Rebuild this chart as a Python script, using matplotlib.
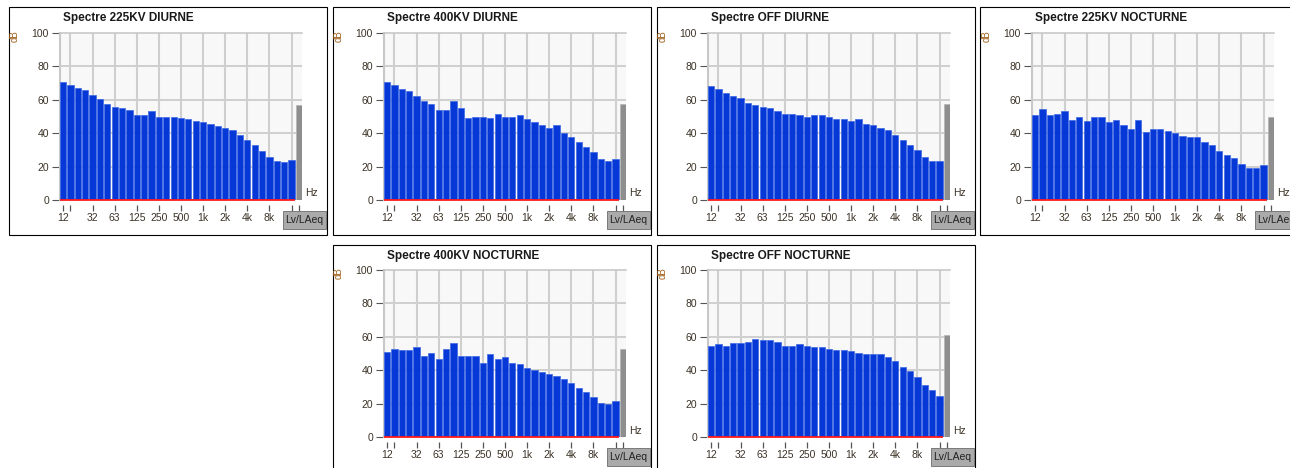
import numpy as np
import matplotlib
matplotlib.use('Agg')
import matplotlib.pyplot as plt
from matplotlib.patches import Rectangle

plt.rcParams['font.family'] = ['Liberation Sans', 'DejaVu Sans']

# Bandes de tiers d'octave 12.5 Hz -> 16 kHz, puis la colonne globale LAeq
bandes = ['12.5', '16', '20', '25', '31.5', '40', '50', '63', '80', '100',
          '125', '160', '200', '250', '315', '400', '500', '630', '800', '1k',
          '1.25k', '1.6k', '2k', '2.5k', '3.15k', '4k', '5k', '6.3k', '8k',
          '10k', '12.5k', '16k']
ticks_pos = [0, 1, 4, 7, 10, 13, 16, 19, 22, 25, 28, 31, 32]
ticks_lab = ['12', '', '32', '63', '125', '250', '500', '1k', '2k', '4k', '8k', '', '']

titres = ['Spectre 225KV DIURNE', 'Spectre 400KV DIURNE', 'Spectre OFF DIURNE',
          'Spectre 225KV NOCTURNE', 'Spectre 400KV NOCTURNE', 'Spectre OFF NOCTURNE']

lv_225_jour = [70.5, 69, 67.3, 65.8, 63, 60.3, 57.4, 55.8, 55, 54, 50.7, 50.7, 53,
               49.7, 49.7, 49.7, 49, 48.4, 47.6, 46.8, 45.8, 44.4, 43.4, 41.8,
               39.2, 35.9, 32.7, 29.3, 26, 23.5, 22.7, 24]
lv_400_jour = [70.5, 69, 66.5, 65, 62, 59, 57.4, 54, 54, 59, 55, 49.2, 50, 50,
               49.2, 51.6, 50, 50, 50.8, 48.4, 46.6, 45, 43.4, 45, 40, 37.6, 35,
               31.9, 28.5, 24.3, 23.5, 24.3]
lv_off_jour = [68, 66.5, 64, 62.3, 60.8, 58.2, 56.6, 55.8, 55, 53.2, 51.6, 51.6,
               50.8, 50, 50.8, 50.8, 50, 48.4, 48.4, 47.6, 48.4, 45.8, 45, 43.4,
               41.8, 39.2, 35.9, 32.7, 30.1, 25.9, 23.5, 23.5]
lv_225_nuit = [50.8, 54.2, 50.8, 51.6, 53.2, 48.2, 50, 47.4, 50, 50, 46.6, 48.2,
               45, 42.6, 48.2, 40.8, 42.6, 42.6, 41.6, 40, 38.4, 37.6, 37.6, 35,
               32.7, 29.3, 26.7, 25.1, 21.7, 19.3, 19.3, 21]
lv_400_nuit = [51, 52.8, 51.8, 51.8, 53.8, 48.8, 50.2, 47, 52.8, 56, 48.8, 48.8,
               48.8, 44.6, 49.6, 47, 48, 44.6, 43.8, 41.2, 40.4, 38.8, 38, 36.4,
               34.6, 32.2, 29.6, 27.2, 23.8, 20.6, 19.8, 21.4]
lv_off_nuit = [54.4, 55.4, 54.4, 56.2, 56.2, 57, 58.6, 57.8, 57.8, 57, 54.4, 54.4,
               55.4, 54.4, 53.6, 53.6, 52.8, 52, 52, 51.2, 50.4, 49.6, 49.6, 49.6,
               47.8, 45.4, 42.2, 39.6, 36.2, 31.4, 28, 24.6]
laeq = [56.6, 57.4, 57.4, 49.8, 52.8, 61]

spectres = [lv_225_jour, lv_400_jour, lv_off_jour, lv_225_nuit, lv_400_nuit, lv_off_nuit]

# coin haut-gauche de chaque cadre (pixels)
coins = [(8, 7), (332, 7), (656, 7), (980, 7), (332, 244), (656, 244)]

FW, FH = 1290, 468
PW, PH = 319, 228
fig = plt.figure(figsize=(FW / 100, FH / 100), dpi=100)


def fx(x):
    return x / FW


def fy(y):
    return 1 - y / FH


def boite(x0, y0, x1, y1, **kw):
    fig.add_artist(Rectangle((fx(x0), fy(y1)), (x1 - x0) / FW, (y1 - y0) / FH,
                             transform=fig.transFigure, **kw))


texte = '#3b3226'
larg = 0.84

for k in range(6):
    px, py = coins[k]
    boite(px + 0.5, py + 0.5, px + PW, py + PH, fill=False, ec='black', lw=0.8)

    g, h, d, b = px + 52, py + 26, px + 294, py + 193
    ax = fig.add_axes([fx(g), fy(b), (d - g) / FW, (b - h) / FH])
    ax.set_facecolor('#f8f8f8')

    n = len(spectres[k])
    x = np.arange(n)
    ax.bar(x, spectres[k], width=larg, color='#0538d6', edgecolor='#3d68e6',
           linewidth=0.5, zorder=3)
    ax.bar([n], [laeq[k]], width=larg, color='#8e8e8e', edgecolor='#b4b4b4',
           linewidth=0.5, zorder=3)
    ax.hlines(0, x[0] - larg / 2, x[-1] + larg / 2, color='#ff1a1a', lw=1.3,
              zorder=4, clip_on=False)

    ax.set_xlim(-larg / 2, n + larg / 2)
    ax.set_ylim(0, 100)
    ax.set_yticks([0, 20, 40, 60, 80, 100])
    ax.set_xticks(ticks_pos)
    ax.set_xticklabels(ticks_lab)
    for v in [20, 40, 60, 80]:
        ax.axhline(v, color='#c4c4c4', lw=1.1, zorder=1)
    for t in ticks_pos[1:-1]:
        ax.axvline(t, color='#cfcfcf', lw=1.5, zorder=1)

    for s in ['right', 'bottom']:
        ax.spines[s].set_visible(False)
    ax.spines['left'].set_color('#c8c8c8')
    ax.spines['left'].set_linewidth(1.5)
    ax.spines['top'].set_color('#c4c4c4')
    ax.spines['top'].set_linewidth(1.1)
    ax.spines['bottom'].set_position(('outward', 3.6))

    ax.tick_params(axis='y', direction='out', length=6, width=0.8, pad=2,
                   color='#555555', labelcolor=texte, labelsize=7.5)
    ax.tick_params(axis='x', direction='out', length=4.5, width=0.9, pad=1.5,
                   color='#555555', labelcolor=texte, labelsize=7.5)

    fig.text(fx(px + 55), fy(py + 11.5), titres[k], fontsize=8.5,
             fontweight='bold', color='#1a1a1a', ha='left', va='center')
    fig.text(fx(px + 7), fy(py + 29), 'dB', fontsize=7, rotation=90,
             color='#a0601a', ha='center', va='center')
    fig.text(fx(px + 297), fy(py + 186.5), 'Hz', fontsize=7.5, color=texte,
             ha='left', va='center')
    boite(px + 275, py + 204, px + 318, py + 222, facecolor='#aaaaaa',
          edgecolor='#7a7a7a', lw=0.7)
    fig.text(fx(px + 296.5), fy(py + 213), 'Lv/LAeq', fontsize=7.5,
             color='#222222', ha='center', va='center')

fig.savefig('out.png', dpi=100, facecolor='white')
